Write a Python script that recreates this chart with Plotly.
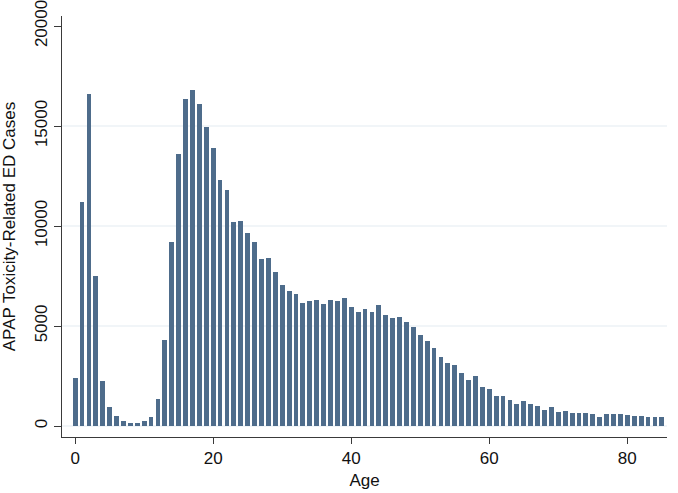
import plotly.graph_objects as go

# Age in years, 0..85
ages = list(range(86))

# APAP toxicity-related ED cases by age
cases = [
    2400, 11200, 16600, 7500, 2250, 960, 500, 250, 150, 170,
    250, 450, 1350, 4300, 9200, 13600, 16330, 16800, 16080, 14970,
    13880, 12280, 11800, 10200, 10250, 9650, 9180, 8370, 8390, 7720,
    7070, 6740, 6590, 6160, 6230, 6290, 6090, 6300, 6270, 6390,
    5950, 5720, 5850, 5720, 6050, 5550, 5420, 5430, 5180, 4930,
    4550, 4250, 3920, 3430, 3130, 3050, 2650, 2300, 2520, 1970,
    1830, 1500, 1500, 1300, 1100, 1230, 1120, 1020, 800, 970,
    680, 730, 650, 660, 650, 600, 470, 600, 580, 620,
    550, 480, 480, 470, 450, 450,
]

x_ticks = [0, 20, 40, 60, 80]
y_ticks = [0, 5000, 10000, 15000, 20000]
grid_vals = [0, 5000, 10000, 15000]

font = "Liberation Sans, Arial, sans-serif"
axis_col = "#3a3a3a"

fig = go.Figure()
fig.add_trace(go.Bar(x=ages, y=cases, width=0.7,
                     marker=dict(color="#4e6c8b", line=dict(width=0))))

# light horizontal grid lines (none at the top tick, as in the original)
for g in grid_vals:
    fig.add_shape(type="line", xref="paper", x0=0, x1=1, yref="y", y0=g, y1=g,
                  line=dict(color="#e3ebf1", width=1.2), layer="below")

fig.update_layout(
    width=678, height=493,
    margin=dict(l=62, r=11, t=16, b=56),
    paper_bgcolor="white", plot_bgcolor="white",
    font=dict(family=font, size=17, color="#111"),
    showlegend=False,
    bargap=0,
)
fig.update_xaxes(
    range=[-1.9, 85.75], tickvals=x_ticks, showgrid=False, zeroline=False,
    showline=True, linecolor=axis_col, linewidth=1, automargin=False,
    ticks="outside", ticklen=6, tickcolor=axis_col, tickformat="d",
    ticklabeloverflow="allow",
    title=dict(text="Age", standoff=6, font=dict(size=17)),
)
fig.update_yaxes(
    range=[-550, 20500], tickvals=y_ticks, showgrid=False, zeroline=False,
    showline=True, linecolor=axis_col, linewidth=1, automargin=False,
    ticks="outside", ticklen=7, tickcolor=axis_col, tickangle=-90, tickformat="d",
    ticklabeloverflow="allow",
    title=dict(text="APAP Toxicity-Related ED Cases", standoff=15, font=dict(size=17)),
)

# drop the default 8px body margin so the figure fills the window exactly
fig.write_html("out.html", config={"displayModeBar": False},
               post_script="document.body.style.margin='0';")
